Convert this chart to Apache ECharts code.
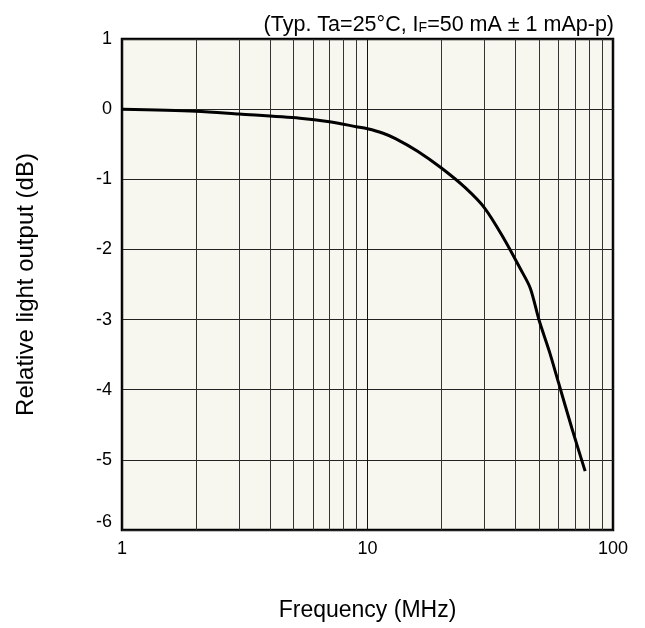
<!DOCTYPE html>
<html><head><meta charset="utf-8">
<script src="https://cdn.jsdelivr.net/npm/echarts@6/dist/echarts.min.js"></script>
<style>html,body{margin:0;padding:0;background:#fff}#c{width:645px;height:628px}</style>
</head><body><div id="c"></div>
<script>
var freq = [1, 2, 3, 5.3, 7, 9, 10, 11.5, 13, 16, 20, 25, 30, 36, 42, 46, 50, 55, 60, 68, 77];
var output = [0.0, -0.03, -0.07, -0.13, -0.18, -0.25, -0.28, -0.34, -0.42, -0.6, -0.84, -1.12, -1.41, -1.85, -2.28, -2.55, -3.01, -3.45, -3.9, -4.55, -5.16];
var minorX = [2, 3, 4, 5, 6, 7, 8, 9, 20, 30, 40, 50, 60, 70, 80, 90];
var yTicks = [1, 0, -1, -2, -3, -4, -5, -6];

var chart = echarts.init(document.getElementById('c'));
var pts = freq.map(function (f, i) { return [f, output[i]]; });
chart.setOption({
  animation: false,
  grid: { left: 122, right: 32, top: 39, bottom: 98, show: true, backgroundColor: '#f7f6ef', borderColor: '#000', borderWidth: 2.5 },
  graphic: [{
    type: 'text', x: 614, y: 25,
    style: {
      text: '{a|(Typ. Ta=25°C, I}{s|F}{a|=50 mA ± 1 mAp-p)}',
      align: 'right', verticalAlign: 'middle',
      rich: {
        a: { fontFamily: 'Liberation Sans', fontSize: 21.5, fill: '#000' },
        s: { fontFamily: 'Liberation Sans', fontSize: 14, fill: '#000', padding: [6, 0, 0, 0] }
      }
    }
  }],
  xAxis: {
    type: 'log', logBase: 10, min: 1, max: 100,
    name: 'Frequency (MHz)', nameLocation: 'middle', nameGap: 69,
    nameTextStyle: { fontFamily: 'Liberation Sans', fontSize: 23, color: '#000' },
    axisLine: { show: false }, axisTick: { show: false },
    axisLabel: { fontFamily: 'Liberation Sans', fontSize: 18, color: '#000', margin: 10 },
    splitLine: { show: true, lineStyle: { color: '#111', width: 1 } }
  },
  yAxis: {
    type: 'value', min: -6, max: 1, interval: 1,
    name: 'Relative light output (dB)', nameLocation: 'middle', nameGap: 84,
    nameTextStyle: { fontFamily: 'Liberation Sans', fontSize: 24, color: '#000' },
    axisLine: { show: false }, axisTick: { show: false },
    axisLabel: {
      fontFamily: 'Liberation Sans', fontSize: 18, color: '#000', margin: 10,
      formatter: function (v) { return v === yTicks[yTicks.length - 1] ? '{lo|' + v + '}' : String(v); },
      rich: { lo: { fontFamily: 'Liberation Sans', fontSize: 18, color: '#000', padding: [0, 0, 16, 0] } }
    },
    splitLine: { show: true, lineStyle: { color: '#222', width: 1 } }
  },
  series: [{
    type: 'line', data: pts, smooth: 0.3, showSymbol: false,
    lineStyle: { color: '#000', width: 3 },
    markLine: {
      silent: true, symbol: 'none', label: { show: false },
      lineStyle: { color: '#333', width: 1, type: 'solid' },
      data: minorX.map(function (v) { return { xAxis: v }; })
    },
    z: 5
  }]
});
</script></body></html>
